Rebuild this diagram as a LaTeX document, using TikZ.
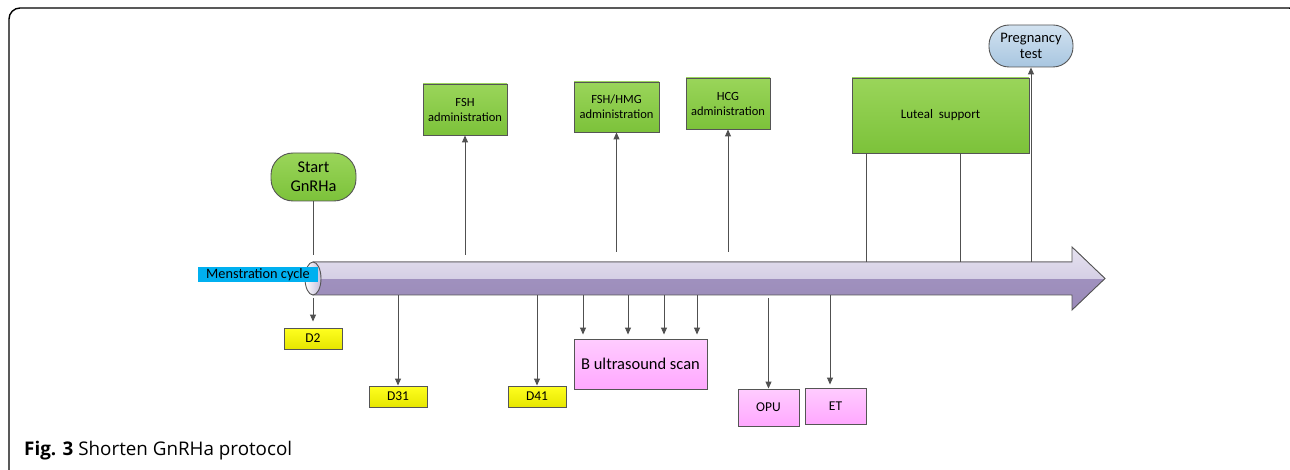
\documentclass[tikz,border=0pt]{standalone}
\usepackage{fontspec}
\setmainfont{Carlito}
\newfontfamily\capfont{Open Sans}
\usetikzlibrary{arrows.meta,shapes.geometric}
\definecolor{grnA}{HTML}{9AD55A}
\definecolor{grnB}{HTML}{7CC23A}
\definecolor{ylwA}{HTML}{FFFF20}
\definecolor{ylwB}{HTML}{E6E600}
\definecolor{pnkA}{HTML}{FFCCFF}
\definecolor{pnkB}{HTML}{FFA8FF}
\definecolor{bluA}{HTML}{D2E2F0}
\definecolor{bluB}{HTML}{A8C6E0}
\definecolor{lblue}{HTML}{00B0F0}
\definecolor{edge}{HTML}{555555}
\definecolor{lnk}{HTML}{505050}
\definecolor{tubA}{HTML}{E6E2F0}
\definecolor{tubB}{HTML}{C4BCDA}
\definecolor{tubC}{HTML}{A597C4}
\definecolor{tubD}{HTML}{9A8AB8}
\tikzset{
  boxbase/.style={draw=edge, line width=0.9pt, inner sep=0pt, align=center},
  greenbox/.style={boxbase, top color=grnA, bottom color=grnB, font=\fontsize{12.5}{15}\selectfont},
  yellowbox/.style={boxbase, top color=ylwA, bottom color=ylwB, minimum width=58pt, minimum height=21pt, font=\fontsize{13.5}{16}\selectfont},
  pinkbox/.style={boxbase, top color=pnkA, bottom color=pnkB, font=\fontsize{13.5}{16}\selectfont},
  conn/.style={draw=lnk, line width=0.9pt},
  arr/.style={conn, -{Triangle[length=7pt,width=6pt]}},
}
\begin{document}
\begin{tikzpicture}[x=1pt,y=-1pt]
\useasboundingbox (0,0) rectangle (1290,470);
% frame
\begin{scope}
\clip (0,0) rectangle (1290,470);
\draw[line width=1.4pt, rounded corners=11pt] (9,480) -- (9,8) -- (1300,8) -- (1300,480);
\end{scope}
% tube body
\def\tubepath{(313,262) -- (1072,262) -- (1072,247) -- (1105,278.5) -- (1072,310) -- (1072,295) -- (313,295) -- cycle}
\fill[top color=tubC, bottom color=tubD] \tubepath;
\begin{scope}
\clip (0,0) rectangle (1290,278.5);
\fill[top color=tubA, bottom color=tubB] \tubepath;
\end{scope}
\draw[edge, line width=0.9pt] \tubepath;
% tube end
\node[draw=edge, line width=0.9pt, ellipse, left color=white, right color=tubB, minimum width=16pt, minimum height=33pt, inner sep=0pt] (tubeend) at (313,278.5) {};
\node[fill=lblue, minimum width=120pt, minimum height=15pt, inner sep=0pt, font=\fontsize{14.3}{16}\selectfont] (cycle) at (258,274.5) {Menstration cycle};
% top nodes
\node[boxbase, top color=grnA, bottom color=grnB, rounded corners=22pt, minimum width=85pt, minimum height=48pt, font=\fontsize{16.4}{19}\selectfont] (start) at (313.5,177) {Start\\GnRHa};
\node[greenbox, minimum width=84pt, minimum height=51pt] (fsh) at (465,109.5) {FSH\\administration};
\node[greenbox, minimum width=85pt, minimum height=50pt] (fshhmg) at (616.5,107) {FSH/HMG\\administration};
\node[greenbox, minimum width=84pt, minimum height=51pt] (hcg) at (728,103.5) {HCG\\administration};
\node[greenbox, minimum width=177pt, minimum height=75pt, font=\fontsize{13}{15}\selectfont] (luteal) at (940.5,115.5) {Luteal\ \ support};
\node[boxbase, top color=bluA, bottom color=bluB, rounded corners=20pt, minimum width=84pt, minimum height=42pt, font=\fontsize{14.5}{16.5}\selectfont] (preg) at (1031,46) {Pregnancy\\test};
% bottom nodes
\node[yellowbox] (d2) at (313,338.5) {D2};
\node[yellowbox] (d31) at (398,396.5) {D31};
\node[yellowbox] (d41) at (537,396.5) {D41};
\node[pinkbox, minimum width=133pt, minimum height=50pt, font=\fontsize{16.5}{19}\selectfont] (bscan) at (640.5,364) {B ultrasound scan};
\node[pinkbox, minimum width=61pt, minimum height=37pt] (opu) at (768.5,407.5) {OPU};
\node[pinkbox, minimum width=61pt, minimum height=36pt] (et) at (835.5,406) {ET};
% caption
\node[anchor=base west, inner sep=0pt, font=\capfont\fontsize{18.8}{22}\selectfont] (cap) at (24,455) {\textbf{Fig. 3} Shorten GnRHa protocol};
% timeline coordinates
\coordinate (s0) at (313.5,255);
\coordinate (u1) at (465,255);
\coordinate (u2) at (616.5,252);
\coordinate (u3) at (728,252);
\coordinate (l1) at (866,262);
\coordinate (l2) at (960,262);
\coordinate (l3) at (1031,262);
\coordinate (b0) at (313,298);
\coordinate (b1) at (398,295);
\coordinate (b2) at (537,295);
\coordinate (b3) at (583,295);
\coordinate (b4) at (628,295);
\coordinate (b5) at (664,295);
\coordinate (b6) at (697,295);
\coordinate (b7) at (768.5,298);
\coordinate (b8) at (830,295);
% connectors
\draw[conn] (start.south) -- (s0);
\draw[arr] (u1) -- (fsh.south);
\draw[arr] (u2) -- (fshhmg.south);
\draw[arr] (u3) -- (hcg.south);
\draw[conn] (l1) -- (l1 |- luteal.south);
\draw[conn] (l2) -- (l2 |- luteal.south);
\draw[arr] (l3) -- (preg.south);
\draw[arr] (b0) -- ([yshift=6pt]d2.north);
\draw[arr] (b1) -- (d31.north);
\draw[arr] (b2) -- (d41.north);
\draw[arr] (b3) -- ([yshift=4pt]b3 |- bscan.north);
\draw[arr] (b4) -- ([yshift=4pt]b4 |- bscan.north);
\draw[arr] (b5) -- ([yshift=4pt]b5 |- bscan.north);
\draw[arr] (b6) -- ([yshift=4pt]b6 |- bscan.north);
\draw[arr] (b7) -- (opu.north);
\draw[arr] (b8) -- ([yshift=3pt]b8 |- et.north);
\end{tikzpicture}
\end{document}
